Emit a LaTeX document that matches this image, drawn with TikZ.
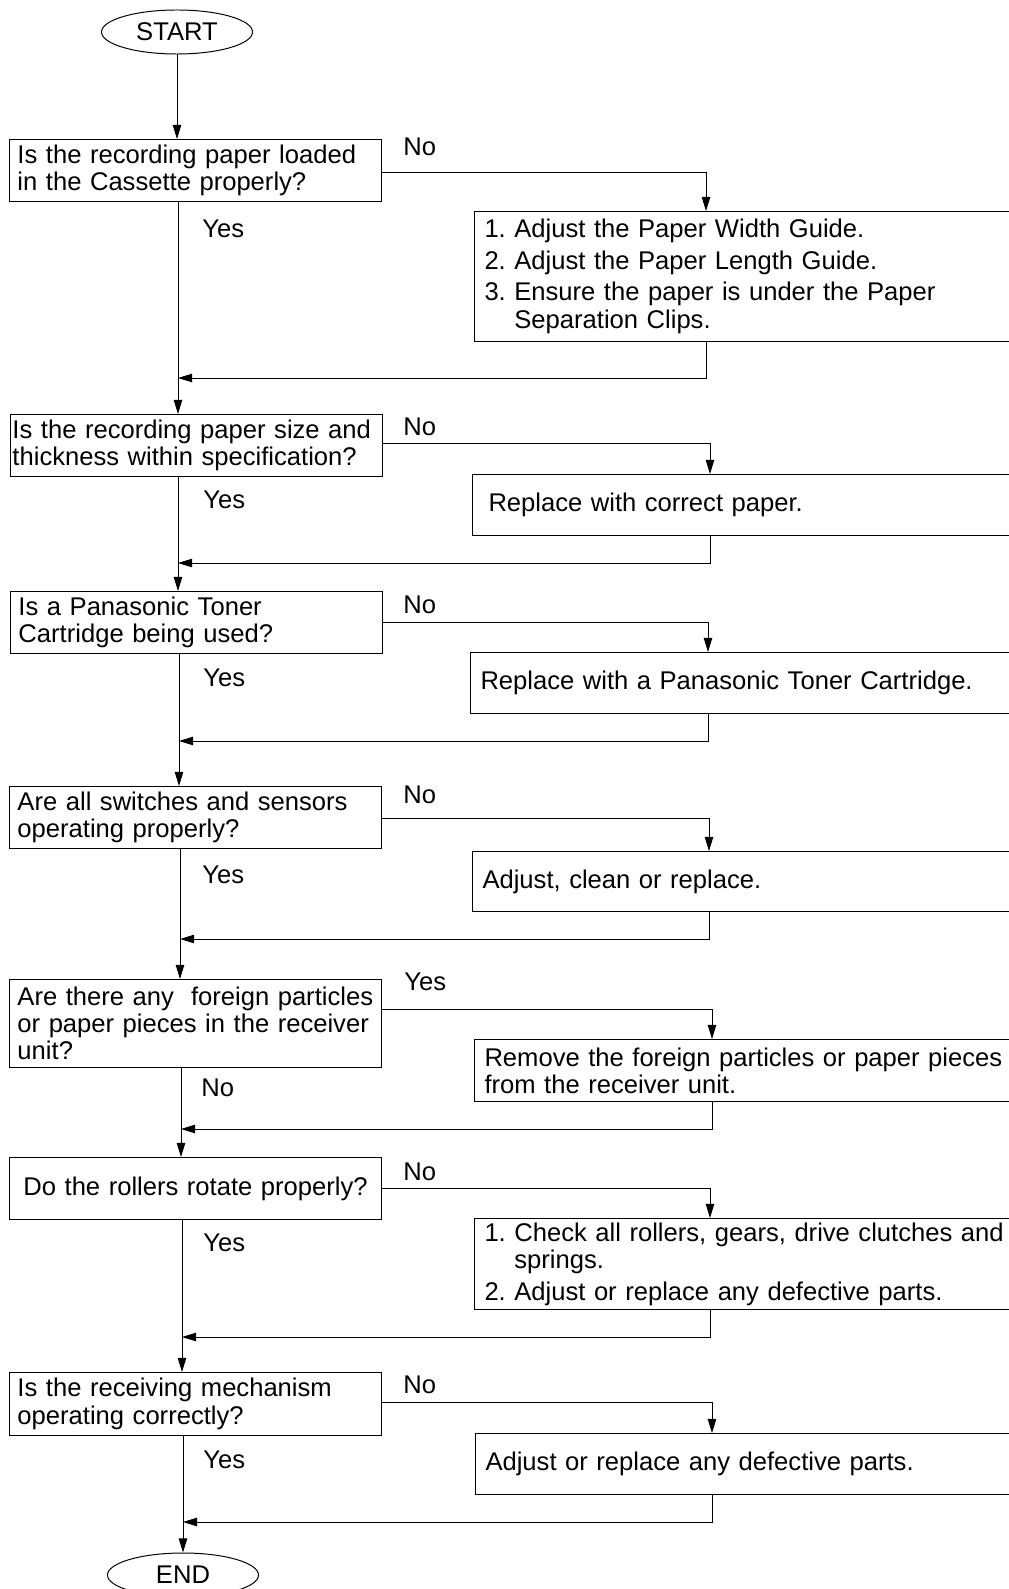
\documentclass[tikz,border=0pt]{standalone}
\usepackage{fontspec}
\setmainfont{Liberation Sans}
\usetikzlibrary{arrows.meta,positioning,shapes.geometric}
\frenchspacing

\begin{document}
\begin{tikzpicture}[
  x=0.025cm, y=-0.025cm,
  >={Triangle[length=10pt,width=6pt]},
  font=\fontsize{18.2}{19.4}\selectfont,
  line width=0.7pt,
  term/.style={draw, ellipse, minimum width=3.775cm, minimum height=1.1cm, inner sep=0pt},
  quest/.style={draw, anchor=north west, minimum width=9.3cm, minimum height=1.55cm,
                text width=8.9cm, inner xsep=0.2cm, inner ysep=0pt, align=left},
  fix/.style={draw, anchor=north west, minimum width=13.6cm, minimum height=1.525cm,
              text width=13.1cm, inner xsep=0.25cm, inner ysep=0pt, align=left},
  lbl/.style={anchor=west, inner sep=0pt},
  arr/.style={->},
]
  \useasboundingbox (0,0) rectangle (1008,1589);

  \node[term] (start) at (177,32) {START};
  \node[quest] (q1) at (9,139) {Is the recording paper loaded\\in the Cassette properly?};
  \node[quest, text width=9.2cm, inner xsep=0.05cm] (q2) at (10,414) {Is the recording paper size and\\thickness within specification?};
  \node[quest] (q3) at (10,591) {Is a Panasonic Toner\\Cartridge being used?};
  \node[quest] (q4) at (9,786) {Are all switches and sensors\\operating properly?};
  \node[quest, minimum height=2.2cm] (q5) at (9,979) {Are there any \ foreign particles\\or paper pieces in the receiver\\unit?};
  \node[quest, align=center] (q6) at (9,1157) {Do the rollers rotate properly?};
  \node[quest, minimum height=1.575cm] (q7) at (9,1372) {Is the receiving mechanism\\operating correctly?};
  \node[term] (end) at (183,1575) {END};

  \node[fix, minimum height=3.25cm] (r1) at (474,211) {1. Adjust the Paper Width Guide.\\[3pt]2. Adjust the Paper Length Guide.\\[3pt]3. Ensure the paper is under the Paper\\\phantom{3. }Separation Clips.};
  \node[fix, inner xsep=0.4cm] (r2) at (472,474) {Replace with correct paper.};
  \node[fix] (r3) at (470,652) {Replace with a Panasonic Toner Cartridge.};
  \node[fix, minimum height=1.5cm] (r4) at (472,851) {Adjust, clean or replace.};
  \node[fix, minimum height=1.55cm] (r5) at (474,1039) {Remove the foreign particles or paper pieces\\from the receiver unit.};
  \node[fix, minimum height=2.275cm] (r6) at (474,1218) {1. Check all rollers, gears, drive clutches and\\\phantom{1. }springs.\\[3pt]2. Adjust or replace any defective parts.};
  \node[fix] (r7) at (475,1433) {Adjust or replace any defective parts.};

  \coordinate (a1) at (706,172);  \coordinate (j1) at (178,378);
  \coordinate (a2) at (710,443);  \coordinate (j2) at (178,563);
  \coordinate (a3) at (708,622);  \coordinate (j3) at (179,741);
  \coordinate (a4) at (709,818);  \coordinate (j4) at (180,939);
  \coordinate (a5) at (712,1009); \coordinate (j5) at (181,1129);
  \coordinate (a6) at (710,1188); \coordinate (j6) at (182,1337);
  \coordinate (a7) at (712,1402); \coordinate (j7) at (183,1522);

  \draw[arr] (start) -- (start |- q1.north);
  \foreach \k in {1,...,7}{
    \draw[arr] (q\k.east |- a\k) -| (r\k.north -| a\k);
    \draw[arr] (r\k.south -| a\k) |- (j\k);
    \draw (j\k |- q\k.south) -- (j\k);
  }
  \foreach \k/\n in {1/2,2/3,3/4,4/5,5/6,6/7}
    \draw[arr] (j\k) -- (q\n.north -| j\k);
  \draw[arr] (j7) -- (end.north -| j7);

  \node[lbl] (lno1) at (403,147) {No};
  \node[lbl] (lyes1) at (202,229) {Yes};
  \node[lbl] (lno2) at (403,427) {No};
  \node[lbl] (lyes2) at (203,500) {Yes};
  \node[lbl] (lno3) at (403,605) {No};
  \node[lbl] (lyes3) at (203,678) {Yes};
  \node[lbl] (lno4) at (403,795) {No};
  \node[lbl] (lyes4) at (202,875) {Yes};
  \node[lbl] (lyes5) at (404,982) {Yes};
  \node[lbl] (lno5) at (201,1088) {No};
  \node[lbl] (lno6) at (403,1172) {No};
  \node[lbl] (lyes6) at (203,1243) {Yes};
  \node[lbl] (lno7) at (403,1385) {No};
  \node[lbl] (lyes7) at (203,1460) {Yes};
\end{tikzpicture}
\end{document}
